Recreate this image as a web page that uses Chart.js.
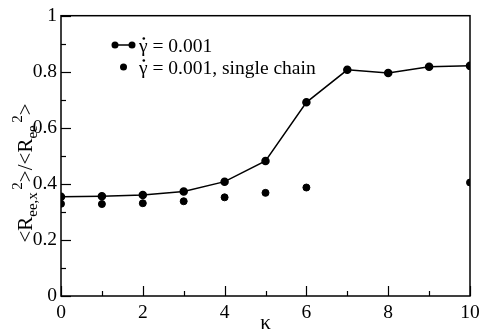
<!DOCTYPE html>
<html><head><meta charset="utf-8">
<script src="https://cdn.jsdelivr.net/npm/chart.js@4.4.0/dist/chart.umd.min.js"></script>
<style>html,body{margin:0;padding:0;background:#fff}#wrap{width:485px;height:333px}</style>
</head><body><div id="wrap"><canvas id="c"></canvas></div>
<script>
const kappa = [0,1,2,3,4,5,6,7,8,9,10];
const multiChain = [0.354,0.356,0.360,0.373,0.408,0.482,0.691,0.807,0.796,0.818,0.821];
const singleKappa = [0,1,2,3,4,5,6,10];
const singleChain = [0.329,0.328,0.331,0.338,0.352,0.368,0.387,0.405];
const xTicks = [0,2,4,6,8,10];
const yTicks = [0,0.2,0.4,0.6,0.8,1];
const legendSymbol = 'γ';
const legendLabels = [' = 0.001',' = 0.001, single chain'];

const FONT = '"Liberation Serif", "DejaVu Serif", serif';

const decor = {
  id:'decor',
  afterDraw(chart){
    const ctx = chart.ctx, xs = chart.scales.x, ys = chart.scales.y, a = chart.chartArea;
    ctx.save();
    ctx.strokeStyle = '#000'; ctx.lineWidth = 1.5;
    ctx.strokeRect(a.left, a.top, a.right-a.left, a.bottom-a.top);
    ctx.lineWidth = 1.2;
    for(let v=0; v<=10; v+=1){
      const px = Math.round(xs.getPixelForValue(v))+0.5, len = v%2===0?10:5;
      ctx.beginPath(); ctx.moveTo(px,a.bottom); ctx.lineTo(px,a.bottom-len); ctx.stroke();
    }
    for(let i=0;i<=10;i++){
      const v=i/10, py = Math.round(ys.getPixelForValue(v))+0.5, len = i%2===0?10:5;
      ctx.beginPath(); ctx.moveTo(a.left,py); ctx.lineTo(a.left+len,py); ctx.stroke();
    }
    // x title
    ctx.fillStyle='#000';
    ctx.font = '21px '+FONT; ctx.textAlign='center'; ctx.textBaseline='alphabetic';
    ctx.fillText('κ', (a.left+a.right)/2, 329);
    // y title, rotated
    ctx.save();
    ctx.translate(32, 173); ctx.rotate(-Math.PI/2);
    const parts = [
      ['<R',0,21],['ee,x',5,15],[' ',0,10],['2',-10,15],['>/<R',0,21],['ee',5,15],[' ',0,10],['2',-10,15],['>',0,21]
    ];
    let total=0;
    parts.forEach(p=>{ctx.font=p[2]+'px '+FONT; total+=ctx.measureText(p[0]).width;});
    let x=-total/2; ctx.textAlign='left';
    parts.forEach(p=>{ctx.font=p[2]+'px '+FONT; ctx.fillText(p[0],x,p[1]); x+=ctx.measureText(p[0]).width;});
    ctx.restore();
    // legend
    ctx.font='19.5px '+FONT; ctx.textAlign='left'; ctx.textBaseline='alphabetic';
    const ly1=45, ly2=67;
    ctx.lineWidth=1.5;
    ctx.beginPath(); ctx.moveTo(115,ly1); ctx.lineTo(132,ly1); ctx.stroke();
    [115,132].forEach(cx=>{ctx.beginPath(); ctx.arc(cx,ly1,3.5,0,2*Math.PI); ctx.fill();});
    ctx.beginPath(); ctx.arc(123.5,ly2,3.5,0,2*Math.PI); ctx.fill();
    [ly1,ly2].forEach((ly,i)=>{
      const base = ly+7, x0 = 139;
      ctx.fillText(legendSymbol,x0,base);
      const gw = ctx.measureText(legendSymbol).width;
      ctx.beginPath(); ctx.arc(x0+gw/2+0.5, base-13.5, 1.3, 0, 2*Math.PI); ctx.fill();
      ctx.fillText(legendLabels[i], x0+gw, base);
    });
    ctx.restore();
  }
};

new Chart(document.getElementById('c'),{
  type:'scatter',
  data:{datasets:[
    {data:kappa.map((k,i)=>({x:k,y:multiChain[i]})),showLine:true,borderColor:'#000',backgroundColor:'#000',borderWidth:1.5,pointRadius:3.5,pointHoverRadius:3.5,tension:0},
    {data:singleKappa.map((k,i)=>({x:k,y:singleChain[i]})),showLine:false,borderColor:'#000',backgroundColor:'#000',pointRadius:3.5,pointHoverRadius:3.5}
  ]},
  options:{
    responsive:true,maintainAspectRatio:false,animation:false,
    layout:{padding:{left:0,right:15,top:11,bottom:0}},
    plugins:{legend:{display:false},tooltip:{enabled:false}},
    scales:{
      x:{type:'linear',min:0,max:10,
        afterBuildTicks(s){s.ticks=xTicks.map(v=>({value:v}));},
        afterFit(s){s.height=37;},
        grid:{display:false,drawTicks:false},border:{display:false},
        ticks:{color:'#000',font:{family:FONT,size:19.5},padding:5,maxRotation:0,callback:v=>String(v)}},
      y:{type:'linear',min:0,max:1,
        afterBuildTicks(s){s.ticks=yTicks.map(v=>({value:v}));},
        afterFit(s){s.width=61;},
        grid:{display:false,drawTicks:false},border:{display:false},
        ticks:{color:'#000',font:{family:FONT,size:19.5},padding:4,callback:v=>String(v)}}
    }
  },
  plugins:[decor]
});
</script></body></html>
